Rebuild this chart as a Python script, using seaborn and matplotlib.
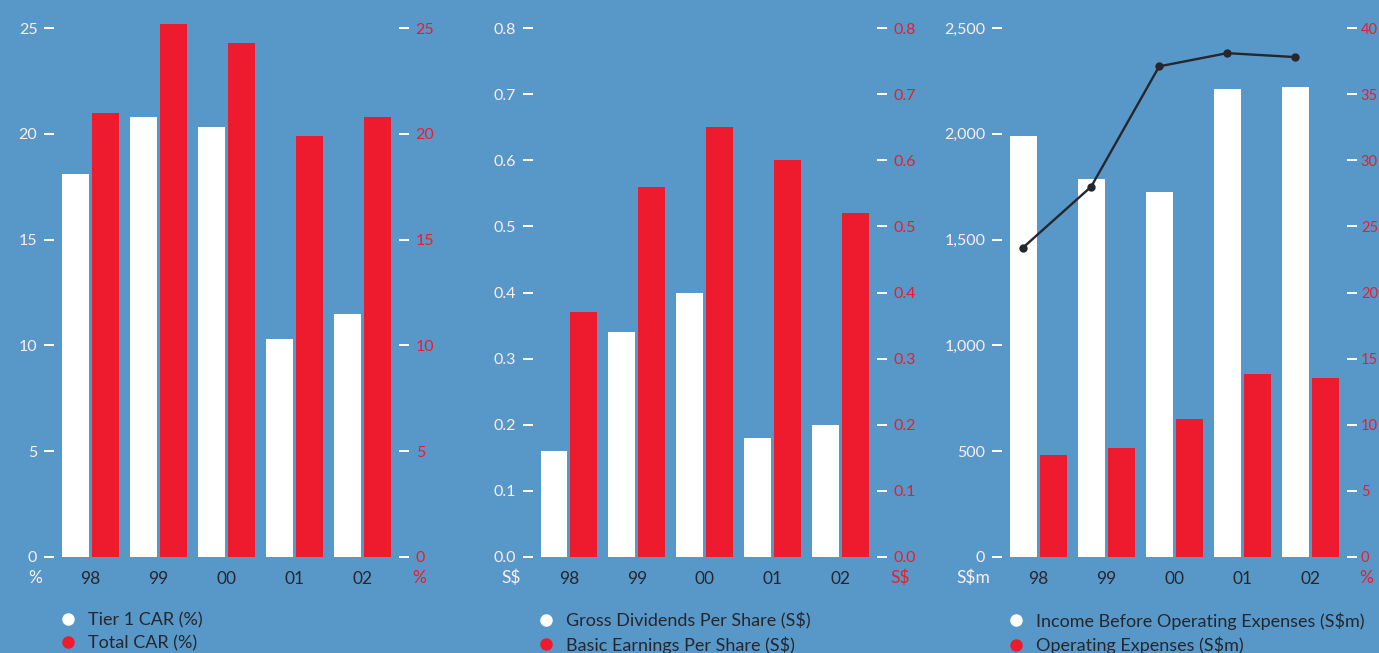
import matplotlib
matplotlib.use("Agg")
import matplotlib.pyplot as plt
from matplotlib.lines import Line2D
from matplotlib.ticker import FuncFormatter
import numpy as np
import pandas as pd
import seaborn as sns

# ---- data -------------------------------------------------------------
years = ["98", "99", "00", "01", "02"]

tier1_car = [18.1, 20.8, 20.3, 10.3, 11.5]
total_car = [21.0, 25.2, 24.3, 19.9, 20.8]

gross_dps = [0.16, 0.34, 0.40, 0.18, 0.20]
basic_eps = [0.37, 0.56, 0.65, 0.60, 0.52]

income_before_opex = [1990, 1786, 1725, 2212, 2221]
operating_expenses = [482, 515, 652, 865, 846]
cost_income_ratio = [23.4, 28.0, 37.1, 38.1, 37.8]

panel_series = [
    ("Tier 1 CAR (%)", tier1_car, "Total CAR (%)", total_car),
    ("Gross Dividends Per Share (S$)", gross_dps, "Basic Earnings Per Share (S$)", basic_eps),
    ("Income Before Operating Expenses (S$m)", income_before_opex,
     "Operating Expenses (S$m)", operating_expenses),
]
left_ticks = [np.arange(0, 26, 5), np.round(np.arange(0, 0.81, 0.1), 1), np.arange(0, 2501, 500)]
right_ticks = [np.arange(0, 26, 5), np.round(np.arange(0, 0.81, 0.1), 1), np.arange(0, 41, 5)]
left_units = ["%", "S$", "S$m"]
right_units = ["%", "S$", "%"]

# ---- style ------------------------------------------------------------
BG = "#5898C8"
RED = "#EE1B2E"
WHITE = "#FFFFFF"
PALE = "#FBEEF1"
DARK = "#26262C"
FONT = ["Lato", "DejaVu Sans"]

sns.set_theme(style="white")
plt.rcParams["font.family"] = FONT

W, H = 1379, 653
fig = plt.figure(figsize=(W / 100, H / 100), dpi=100, facecolor=BG)

# axes placement in pixels: (left spine, right spine)
spines_px = [(54, 399), (533, 877), (1002, 1347)]
bottom_px, top_px, top_tick_px = 557, 10, 28
stretch = (bottom_px - top_px) / (bottom_px - top_tick_px)

fmt_int = FuncFormatter(lambda v, p: f"{int(round(v)):,}")
fmt_dec = FuncFormatter(lambda v, p: f"{v:.1f}")
formatters = [fmt_int, fmt_dec, fmt_int]

legend_left_px = [59, 537, 1007]

for i, (lab_a, vals_a, lab_b, vals_b) in enumerate(panel_series):
    l, r = spines_px[i]
    ax = fig.add_axes([l / W, (H - bottom_px) / H, (r - l) / W, (bottom_px - top_px) / H])
    ax.set_facecolor(BG)

    df = pd.DataFrame({
        "year": years * 2,
        "value": list(vals_a) + list(vals_b),
        "series": [lab_a] * len(years) + [lab_b] * len(years),
    })
    sns.barplot(data=df, x="year", y="value", hue="series",
                palette={lab_a: WHITE, lab_b: RED}, width=0.88, gap=0.1,
                saturation=1, linewidth=0, legend=False, ax=ax)

    ax.set_xlim(-0.53, 4.54)
    ax.set_ylim(0, left_ticks[i][-1] * stretch)
    ax.set_yticks(left_ticks[i])
    ax.yaxis.set_major_formatter(formatters[i])
    ax.set_xlabel("")
    ax.set_ylabel("")
    for s in ax.spines.values():
        s.set_visible(False)
    ax.tick_params(axis="y", which="major", left=True, length=7, width=1.4,
                   color=WHITE, direction="out", pad=5, labelsize=11.5, labelcolor=PALE)
    ax.tick_params(axis="x", length=0, pad=10, labelsize=12.5, labelcolor=DARK)

    ax2 = ax.twinx()
    ax2.set_xlim(ax.get_xlim())
    ax2.set_ylim(0, right_ticks[i][-1] * stretch)
    ax2.set_yticks(right_ticks[i])
    ax2.yaxis.set_major_formatter(formatters[i])
    for s in ax2.spines.values():
        s.set_visible(False)
    last = i == 2
    ax2.tick_params(axis="y", which="major", right=True, length=7, width=1.4,
                    color=WHITE, direction="out", pad=3 if last else 5,
                    labelsize=10.5 if last else 11.5, labelcolor=RED)

    if last:
        # cost-to-income ratio, aligned with the white bars
        xpos = np.arange(len(years)) - 0.22
        sns.lineplot(x=xpos, y=cost_income_ratio, ax=ax2, color=DARK, lw=1.7,
                     marker="o", markersize=6, markeredgewidth=0, sort=False)

    # unit captions beside the axes
    ax.annotate(left_units[i], xy=(0, 0), xycoords="axes fraction",
                xytext=(-12, -21), textcoords="offset pixels",
                ha="right", va="center", fontsize=12.5, color=PALE)
    ax.annotate(right_units[i], xy=(1, 0), xycoords="axes fraction",
                xytext=(12 if last else 13, -21), textcoords="offset pixels",
                ha="left", va="center", fontsize=12.5, color=RED)

    handles = [
        Line2D([], [], ls="", marker="o", markersize=9, markeredgewidth=0, color=WHITE),
        Line2D([], [], ls="", marker="o", markersize=9, markeredgewidth=0, color=RED),
    ]
    ax.legend(handles, [lab_a, lab_b], loc="upper left",
              bbox_to_anchor=(legend_left_px[i] / W, (H - 612) / H),
              bbox_transform=fig.transFigure, frameon=False,
              fontsize=13.0, handlelength=0.97, handletextpad=0.62,
              labelspacing=0.4, borderpad=0, borderaxespad=0,
              labelcolor=DARK)

fig.savefig("out.png", dpi=100, facecolor=BG)
